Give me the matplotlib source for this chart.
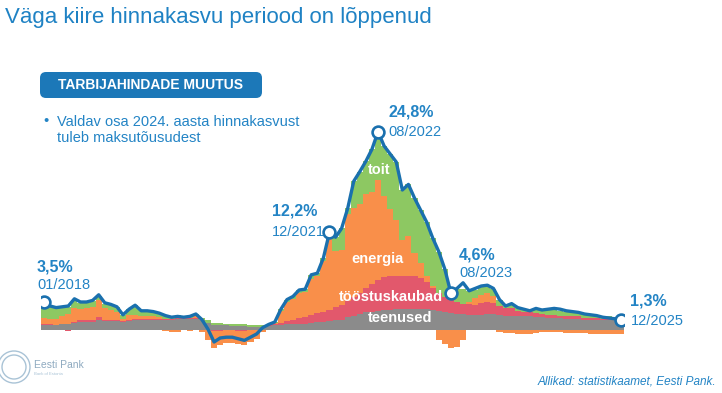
import numpy as np
import matplotlib
matplotlib.use('Agg')
import matplotlib.pyplot as plt
from matplotlib.patches import FancyBboxPatch, Circle

plt.rcParams['font.family'] = ['Liberation Sans', 'DejaVu Sans']

# monthly data 01/2018 ... 12/2025, contributions in percentage points
teenused = [0.6, 0.6, 0.6, 0.7, 0.8, 0.9, 1.0, 1.0, 1.0, 1.3, 1.1, 1.1,
            1.1, 1.0, 1.1, 1.2, 1.2, 1.2, 1.3, 1.3, 1.3, 1.3, 1.4, 1.4,
            1.4, 1.4, 1.2, 0.9, 0.6, 0.6, 0.6, 0.5, 0.5, 0.5, 0.4, 0.4,
            0.4, 0.5, 0.6, 0.6, 0.7, 0.7, 0.8, 0.8, 0.9, 1.0, 1.0, 1.1,
            1.2, 1.3, 1.6, 1.8, 2.0, 2.2, 2.3, 2.4, 2.5, 2.5, 2.6, 2.6,
            2.6, 2.6, 2.6, 2.6, 2.5, 2.4, 2.2, 2.1, 2.0, 2.0, 1.9, 1.9,
            1.9, 2.0, 2.0, 1.9, 1.8, 1.8, 1.7, 1.7, 1.7, 1.6, 1.6, 1.5,
            1.5, 1.5, 1.4, 1.4, 1.4, 1.3, 1.3, 1.3, 1.2, 1.2, 1.2, 1.2]

toostuskaubad = [0.1, 0.1, 0.0, 0.1, -0.1, 0.1, 0.2, 0.2, 0.2, 0.3, 0.2, 0.2,
                 0.2, 0.1, 0.2, 0.2, 0.2, 0.2, 0.1, 0.1, 0.1, 0.1, 0.1, 0.1,
                 0.1, 0.1, 0.0, 0.0, -0.1, -0.1, 0.0, 0.0, -0.1, -0.1, 0.0, 0.0,
                 0.0, 0.1, 0.1, 0.3, 0.4, 0.5, 0.7, 0.8, 1.0, 1.1, 1.3, 1.4,
                 1.7, 1.8, 2.0, 2.3, 2.6, 3.0, 3.5, 3.8, 4.1, 4.2, 4.2, 4.2,
                 4.2, 4.1, 3.9, 3.4, 2.8, 2.2, 1.9, 1.6, 1.5, 1.3, 1.3, 1.2,
                 1.5, 1.5, 1.4, 1.1, 0.9, 0.9, 0.7, 0.6, 0.5, 0.5, 0.4, 0.4,
                 0.4, 0.3, 0.3, 0.3, 0.3, 0.2, 0.2, 0.2, 0.2, 0.2, 0.1, 0.1]

energia = [0.8, 0.7, 0.8, 1.0, 1.2, 1.7, 1.4, 1.5, 1.7, 2.1, 1.4, 1.2,
           1.0, 0.3, 0.6, 0.5, 0.3, 0.3, 0.4, 0.2, -0.1, -0.2, -0.2, 0.0,
           -0.1, 0.2, -0.2, -1.2, -2.1, -1.8, -1.6, -1.6, -1.6, -1.8, -1.5, -1.1,
           -0.3, 0.0, 0.2, 1.5, 2.4, 2.7, 3.1, 3.1, 4.5, 4.6, 6.3, 9.2,
           7.0, 6.9, 10.9, 11.2, 11.2, 11.8, 11.5, 12.6, 10.1, 8.4, 7.0, 4.4,
           4.9, 2.9, 1.9, 0.8, 0.2, -1.2, -1.8, -2.3, -2.1, -1.2, 0.3, 0.9,
           1.0, 1.1, 0.8, -0.3, -0.4, -0.4, -0.5, -0.5, -0.5, -0.4, -0.3, -0.3,
           -0.3, -0.3, -0.4, -0.4, -0.4, -0.4, -0.5, -0.5, -0.5, -0.5, -0.5, -0.5]

toit = [1.8, 1.5, 1.3, 1.0, 0.9, 1.1, 0.8, 0.7, 0.7, 0.6, 0.6, 0.6,
        0.6, 0.5, 0.7, 1.2, 0.8, 0.7, 0.5, 0.5, 0.5, 0.4, 0.4, 0.3,
        0.3, 0.3, 0.3, 0.4, 0.3, 0.3, 0.2, 0.2, 0.2, 0.2, 0.2, 0.2,
        0.2, 0.1, 0.1, 0.2, 0.3, 0.3, 0.4, 0.4, 0.5, 0.4, 0.4, 0.5,
        1.7, 2.7, 0.7, 3.3, 4.0, 4.1, 5.3, 6.0, 6.3, 6.9, 7.2, 6.3,
        6.5, 6.9, 6.6, 6.7, 6.0, 5.2, 3.5, 1.2, 1.6, 1.8, 1.4, 1.0,
        1.0, 1.0, 0.9, 0.8, 0.3, 0.6, 0.4, 0.3, 0.3, 0.6, 0.5, 0.6,
        0.6, 0.6, 0.6, 0.5, 0.5, 0.5, 0.4, 0.4, 0.3, 0.3, 0.3, 0.2]

# total consumer price change, % y/y
kokku = [3.5, 3.0, 2.8, 2.9, 3.0, 3.9, 3.5, 3.5, 3.7, 4.4, 3.4, 3.2,
         2.9, 1.9, 2.6, 3.1, 2.4, 2.4, 2.3, 2.1, 1.8, 1.6, 1.7, 1.6,
         1.7, 2.0, 1.3, 0.1, -1.5, -1.0, -0.9, -0.9, -1.1, -1.3, -0.9, -0.5,
         0.3, 0.7, 1.0, 2.6, 3.8, 4.2, 5.0, 5.1, 6.9, 7.1, 9.0, 12.2,
         11.6, 12.7, 15.2, 18.6, 19.8, 21.1, 22.6, 24.8, 23.0, 22.0, 21.0, 17.5,
         18.2, 16.5, 15.0, 13.5, 11.5, 9.8, 7.6, 4.6, 5.2, 5.9, 4.9, 5.2,
         5.5, 5.6, 5.2, 3.8, 3.0, 3.3, 2.8, 2.6, 2.4, 2.7, 2.5, 2.6,
         2.7, 2.6, 2.4, 2.3, 2.2, 2.0, 1.9, 1.8, 1.6, 1.5, 1.4, 1.3]

komponendid = ['teenused', 'tööstuskaubad', 'energia', 'toit']
varvid = ['#8b8b8b', '#e2586c', '#f98f4a', '#8dc862']

# highlighted points
ann_idx = [0, 47, 55, 67, 95]
ann_value = ['3,5%', '12,2%', '24,8%', '4,6%', '1,3%']
ann_date = ['01/2018', '12/2021', '08/2022', '08/2023', '12/2025']

BLUE = '#1a70ae'
TEXT_BLUE = '#2384c5'


def draw_stacks(ax):
	x = np.arange(len(kokku))
	pos_bottom = np.zeros(len(x))
	neg_bottom = np.zeros(len(x))
	for vals, col in zip([teenused, toostuskaubad, energia, toit], varvid):
		v = np.array(vals, dtype=float)
		bottom = np.where(v >= 0, pos_bottom, neg_bottom)
		ax.bar(x, v, width=1.0, bottom=bottom, color=col, linewidth=0, antialiased=False)
		pos_bottom += np.clip(v, 0, None)
		neg_bottom += np.clip(v, None, 0)

	ax.plot(x, kokku, color=BLUE, lw=2.4, solid_joinstyle='round', zorder=5)
	ax.plot(x[ann_idx], np.array(kokku)[ann_idx], 'o', ms=8.5, mfc='white',
	        mec=BLUE, mew=1.9, zorder=6)


def draw_annotations(ax):
	# (dx, dy, ha) in pixels for value and date label of each highlighted point
	val_pos = [(-7, 35, 'left'), (-12, 21, 'right'), (33, 20, 'center'), (8, 38, 'left'), (9, 19, 'left')]
	date_pos = [(-7, 17, 'left'), (-5, 0, 'right'), (10, 0, 'left'), (8, 20, 'left'), (10, -1, 'left')]
	for i, idx in enumerate(ann_idx):
		xy = (idx, kokku[idx])
		dx, dy, ha = val_pos[i]
		ax.annotate(ann_value[i], xy, xytext=(dx, dy), textcoords='offset pixels',
		            ha=ha, va='center', fontsize=11.5, fontweight='bold', color=TEXT_BLUE,
		            annotation_clip=False)
		dx, dy, ha = date_pos[i]
		ax.annotate(ann_date[i], xy, xytext=(dx, dy), textcoords='offset pixels',
		            ha=ha, va='center', fontsize=10.5, color=TEXT_BLUE,
		            annotation_clip=False)

	# series names inside the areas
	inner = [('toit', 55.2, 20.0), ('energia', 54.9, 8.9),
	         ('tööstuskaubad', 57.2, 4.1), ('teenused', 58.6, 1.5)]
	for name, xx, yy in inner:
		ax.text(xx, yy, name, ha='center', va='center', color='white',
		        fontsize=10.5, fontweight='bold', zorder=7)


def draw_page(fig):
	fig.text(5 / 722, 1 - 17 / 393, 'Väga kiire hinnakasvu periood on lõppenud',
	         ha='left', va='center', fontsize=16, color='#1f82c4')

	badge = FancyBboxPatch((0.40, (393 - 98) / 100), 2.22, 0.26,
	                       boxstyle='round,pad=0,rounding_size=0.06',
	                       transform=fig.dpi_scale_trans, facecolor='#1c78b8',
	                       edgecolor='none')
	fig.add_artist(badge)
	fig.text(151 / 722, 1 - 85 / 393, 'TARBIJAHINDADE MUUTUS', ha='center', va='center',
	         fontsize=10, fontweight='bold', color='white')

	fig.text(43 / 722, 1 - 121 / 393, '•', ha='left', va='center', fontsize=10.5, color=TEXT_BLUE)
	fig.text(57 / 722, 1 - 130 / 393, 'Valdav osa 2024. aasta hinnakasvust\ntuleb maksutõusudest',
	         ha='left', va='center', fontsize=10.5, color=TEXT_BLUE, linespacing=1.25)

	fig.text(716 / 722, 1 - 381 / 393, 'Allikad: statistikaamet, Eesti Pank.', ha='right',
	         va='center', fontsize=8.5, style='italic', color=TEXT_BLUE)

	# Eesti Pank logo
	for r in (0.16, 0.12):
		fig.add_artist(Circle((0.14, 0.26), r, transform=fig.dpi_scale_trans,
		                      facecolor='none', edgecolor='#a9c3d6', lw=1.0))
	fig.text(34 / 722, 1 - 365 / 393, 'Eesti Pank', ha='left', va='center',
	         fontsize=7.5, color='#8eaac0')
	fig.text(34 / 722, 1 - 374 / 393, 'Bank of Estonia', ha='left', va='center',
	         fontsize=3, color='#a9c3d6')


def main():
	fig = plt.figure(figsize=(7.22, 3.93), dpi=100)
	ax = fig.add_axes([41 / 722, 39 / 393, 583 / 722, 232 / 393])
	ax.set_xlim(-0.5, 95.5)
	ax.set_ylim(-3, 26)
	ax.axis('off')

	draw_stacks(ax)
	draw_annotations(ax)
	draw_page(fig)

	fig.savefig('out.png', dpi=100, facecolor='white')


if __name__ == '__main__':
	main()
